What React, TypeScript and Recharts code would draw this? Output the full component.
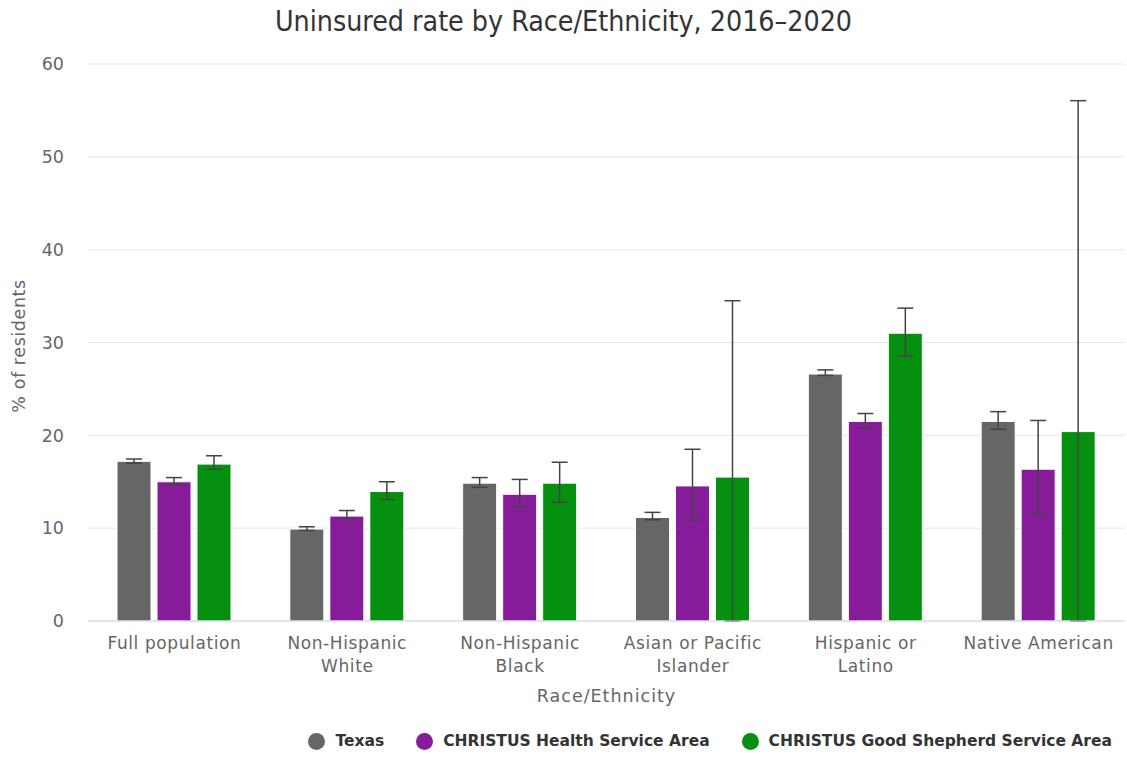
import React from 'react';
import { BarChart, Bar, XAxis, YAxis, CartesianGrid, ErrorBar } from 'recharts';

const categories = ['Full population', 'Non-Hispanic White', 'Non-Hispanic Black', 'Asian or Pacific Islander', 'Hispanic or Latino', 'Native American'];
const categoryLines = [['Full population'], ['Non-Hispanic', 'White'], ['Non-Hispanic', 'Black'], ['Asian or Pacific', 'Islander'], ['Hispanic or', 'Latino'], ['Native American']];

const seriesNames = ['Texas', 'CHRISTUS Health Service Area', 'CHRISTUS Good Shepherd Service Area'];
const seriesColors = ['#666666', '#871c9a', '#05900f'];

const texas = [17.2, 9.9, 14.85, 11.15, 26.6, 21.5];
const texasLow = [17.0, 9.75, 14.4, 10.9, 26.45, 20.65];
const texasHigh = [17.45, 10.15, 15.45, 11.7, 27.05, 22.55];

const christus = [15.0, 11.3, 13.65, 14.55, 21.5, 16.35];
const christusLow = [14.7, 11.05, 12.3, 10.9, 20.8, 11.5];
const christusHigh = [15.45, 11.9, 15.25, 18.5, 22.35, 21.6];

const goodShepherd = [16.9, 13.95, 14.85, 15.5, 31.0, 20.4];
const goodShepherdLow = [16.35, 13.1, 12.8, 0, 28.55, 0];
const goodShepherdHigh = [17.8, 15.0, 17.1, 34.5, 33.7, 56.05];

const yTicks = [0, 10, 20, 30, 40, 50, 60];

const data = categories.map((c, i) => ({
  category: c,
  texas: texas[i],
  texasErr: [texas[i] - texasLow[i], texasHigh[i] - texas[i]],
  christus: christus[i],
  christusErr: [christus[i] - christusLow[i], christusHigh[i] - christus[i]],
  gs: goodShepherd[i],
  gsErr: [goodShepherd[i] - goodShepherdLow[i], goodShepherdHigh[i] - goodShepherd[i]],
}));

const FONT = '"DejaVu Sans", sans-serif';

const CatTick = (props: any) => {
  const { x, y, payload } = props;
  const idx = categories.indexOf(payload.value);
  const lines = idx >= 0 ? categoryLines[idx] : [payload.value];
  return (
    <g transform={`translate(${x},${y})`}>
      {lines.map((l, i) => (
        <text key={i} x={0} y={20 + i * 23} textAnchor="middle" fill="#666666" fontSize={17} letterSpacing={0.6} fontFamily={FONT}>
          {l}
        </text>
      ))}
    </g>
  );
};

const LegendContent = () => (
  <div style={{ display: 'flex', justifyContent: 'flex-end', alignItems: 'center', fontFamily: FONT, fontSize: 15.5, fontWeight: 'bold', color: '#333333' }}>
    {seriesNames.map((n, i) => (
      <div key={n} style={{ display: 'flex', alignItems: 'center', marginLeft: i === 0 ? 0 : 32 }}>
        <span style={{ width: 17, height: 17, borderRadius: 9, background: seriesColors[i], display: 'inline-block', marginRight: 10 }} />
        <span>{n}</span>
      </div>
    ))}
  </div>
);

export default function App() {
  return (
    <div style={{ position: 'absolute', left: 0, top: 0, width: 1127, height: 763, background: '#fff' }}>
      <div style={{ position: 'absolute', left: 0, top: 5, width: 1127, textAlign: 'center', fontFamily: '"DejaVu Sans Condensed", "DejaVu Sans", sans-serif', fontSize: 28.3, color: '#333333' }}>
        Uninsured rate by Race/Ethnicity, 2016–2020
      </div>
      <div style={{ position: 'absolute', left: 88, top: 686, width: 1037, textAlign: 'center', fontFamily: FONT, fontSize: 17.5, letterSpacing: 1, color: '#666666' }}>
        Race/Ethnicity
      </div>
      <div style={{ position: 'absolute', left: 19, top: 346, transform: 'translate(-50%, -50%) rotate(-90deg)', whiteSpace: 'nowrap', fontFamily: FONT, fontSize: 17.5, letterSpacing: 0.6, color: '#666666' }}>
        % of residents
      </div>
      <div style={{ position: 'absolute', left: 0, top: 0 }}>
        <BarChart
          width={1127}
          height={763}
          data={data}
          margin={{ top: 64, right: 2, bottom: 52, left: 0 }}
          barGap={6}
          barSize={34}
        >
          <CartesianGrid vertical={false} stroke="#e6e6e6" />
          <XAxis dataKey="category" tick={<CatTick />} tickLine={false} axisLine={{ stroke: '#ccd6eb' }} height={90} interval={0} />
          <YAxis domain={[0, 60]} ticks={yTicks} width={88} axisLine={false} tickLine={false} tick={{ fill: '#666666', fontSize: 17.5, fontFamily: FONT }} tickMargin={18} />
          <Bar dataKey="texas" name={seriesNames[0]} fill={seriesColors[0]} stroke="#ffffff" strokeWidth={1} isAnimationActive={false}>
            <ErrorBar dataKey="texasErr" width={8} stroke="#444444" strokeWidth={1.5} />
          </Bar>
          <Bar dataKey="christus" name={seriesNames[1]} fill={seriesColors[1]} stroke="#ffffff" strokeWidth={1} isAnimationActive={false}>
            <ErrorBar dataKey="christusErr" width={8} stroke="#444444" strokeWidth={1.5} />
          </Bar>
          <Bar dataKey="gs" name={seriesNames[2]} fill={seriesColors[2]} stroke="#ffffff" strokeWidth={1} isAnimationActive={false}>
            <ErrorBar dataKey="gsErr" width={8} stroke="#444444" strokeWidth={1.5} />
          </Bar>
        </BarChart>
      </div>
      <div style={{ position: 'absolute', right: 15, top: 732 }}>
        <LegendContent />
      </div>
    </div>
  );
}
